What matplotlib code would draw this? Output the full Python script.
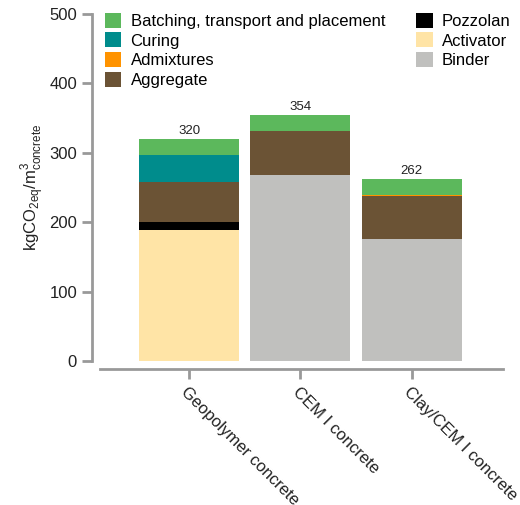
import matplotlib.pyplot as plt
import numpy as np

plt.rcParams["font.family"] = ["Liberation Sans", "DejaVu Sans"]

categories = ["Geopolymer concrete", "CEM I concrete", "Clay/CEM I concrete"]

# stacked from bottom to top
activator = [189, 0, 0]
binder = [0, 268, 176]
pozzolan = [11, 0, 0]
aggregate = [58, 63, 62]
admixtures = [0, 0.5, 1]
curing = [39, 0, 0]
batching = [23, 22.5, 23]

stack = [
    ("Activator", activator, "#FFE4A6"),
    ("Binder", binder, "#C0C0BE"),
    ("Pozzolan", pozzolan, "#000000"),
    ("Aggregate", aggregate, "#6B5335"),
    ("Admixtures", admixtures, "#FF9300"),
    ("Curing", curing, "#008C8C"),
    ("Batching, transport and placement", batching, "#5CB85C"),
]
legend_order = [
    "Batching, transport and placement", "Curing", "Admixtures", "Aggregate",
    "Pozzolan", "Activator", "Binder",
]

fig = plt.figure(figsize=(5.2, 5.05), dpi=100)
ax = fig.add_axes([0.1923, 0.2851, 0.775, 0.687])

x = np.arange(len(categories))
bottom = np.zeros(len(categories))
handles = {}
for name, vals, color in stack:
    vals = np.array(vals, dtype=float)
    bars = ax.bar(x, vals, 0.9, bottom=bottom, color=color, linewidth=0, label=name)
    handles[name] = bars
    bottom += vals

for xi, total in zip(x, bottom):
    ax.text(xi, total + 3, f"{total:.0f}", ha="center", va="bottom", fontsize=9.5, color="#222222")

ax.set_xlim(-0.8, 2.82)
ax.set_ylim(0, 500)
ax.set_yticks([0, 100, 200, 300, 400, 500])
ax.set_xticks(x)

for s in ["top", "right"]:
    ax.spines[s].set_visible(False)
for s in ["left", "bottom"]:
    ax.spines[s].set_color("#999999")
    ax.spines[s].set_linewidth(2)
    ax.spines[s].set_position(("outward", 6))
ax.tick_params(axis="both", colors="#999999", width=2, length=7, labelsize=12,
               labelcolor="#222222")
ax.tick_params(axis="x", pad=4)

ax.set_xticklabels(categories)
for lbl in ax.get_xticklabels():
    lbl.set_rotation(-45)
    lbl.set_ha("left")
    lbl.set_va("top")
    lbl.set_rotation_mode("anchor")

ax.set_ylabel(r"kgCO$_\mathregular{2eq}$/m$^\mathregular{3}_\mathregular{concrete}$",
              fontsize=12, color="#222222", labelpad=2)

leg = ax.legend([handles[n] for n in legend_order], legend_order, ncol=2,
                loc="upper left", bbox_to_anchor=(-0.013, 1.033), frameon=False,
                fontsize=12, handlelength=1.0, handleheight=1.0, handletextpad=0.55,
                labelspacing=0.22, columnspacing=1.85, borderaxespad=0.2)

fig.savefig("out.png", dpi=100)
